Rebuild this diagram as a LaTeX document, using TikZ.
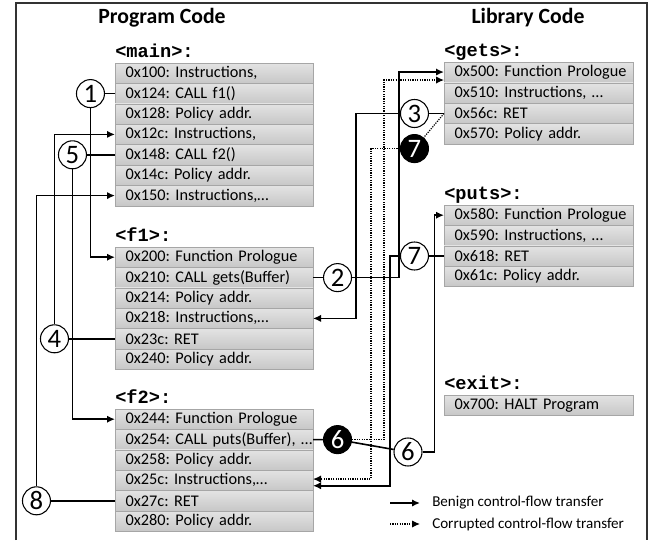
\documentclass[tikz,border=0pt]{standalone}
\usepackage{fontspec}
\setmainfont{Carlito}
\newfontfamily\codefont{Liberation Mono}
\frenchspacing
\hyphenpenalty=10000
\usetikzlibrary{positioning,arrows.meta}
\tikzstyle{row}=[rectangle, draw=gray!70, top color=gray!22, bottom color=gray!44, minimum height=15.3pt,
inner xsep=0pt, inner ysep=0pt, outer sep=0pt, text width=148.5pt, align=left,
execute at begin node={\hspace*{8pt}}, font=\fontsize{12.2}{14}\selectfont]
\tikzstyle{lrow}=[row, text width=141.75pt]
\tikzstyle{fname}=[inner sep=0pt, text depth=0pt, font=\codefont\bfseries\fontsize{14}{16}\selectfont]
\tikzstyle{title}=[font=\bfseries\fontsize{16.3}{18}\selectfont]
\tikzstyle{num}=[circle, draw, line width=0.8pt, minimum size=21pt, inner sep=0pt, fill=white, font=\fontsize{20}{20}\selectfont]
\tikzstyle{bnum}=[num, fill=black, text=white]
\tikzstyle{line}=[-, line width=1.2pt]
\tikzstyle{arr}=[line, -{Latex[length=6pt,width=5.5pt]}]
\tikzstyle{dline}=[-, line width=0.9pt, dash pattern=on 0.9pt off 0.9pt]
\tikzstyle{darr}=[dline, -{Latex[length=6pt,width=5.5pt]}]
\tikzstyle{legend}=[inner sep=0pt, font=\fontsize{11.3}{13}\selectfont]
\begin{document}
\begin{tikzpicture}[x=0.75pt, y=-0.75pt, node distance=0pt]
\useasboundingbox (0,0) rectangle (650,540);
\draw[line width=1pt, draw=black!80] (16,540) -- (16,3) -- (647,3) -- (647,540);

    \node (prog) [title] at (162,18) {Program Code};
    \node (lib) [title] at (528,18) {Library Code};

%program side
    \node (main1) [row, anchor=north west] at (115,63) {0x100: Instructions,};
    \node (main2) [row, below=of main1] {0x124: CALL f1()};
    \node (main3) [row, below=of main2] {0x128: Policy addr.};
    \node (main4) [row, below=of main3] {0x12c: Instructions,};
    \node (main5) [row, below=of main4] {0x148: CALL f2()};
    \node (main6) [row, below=of main5] {0x14c: Policy addr.};
    \node (main7) [row, below=of main6] {0x150: Instructions,…};
    \node (mainl) [fname, above right=4pt and 0pt of main1.north west] {<main>:};

    \node (fone1) [row, anchor=north west] at (115,247) {0x200: Function Prologue};
    \node (fone2) [row, below=of fone1] {0x210: CALL gets(Buffer)};
    \node (fone3) [row, below=of fone2] {0x214: Policy addr.};
    \node (fone4) [row, below=of fone3] {0x218: Instructions,…};
    \node (fone5) [row, below=of fone4] {0x23c: RET};
    \node (fone6) [row, below=of fone5] {0x240: Policy addr.};
    \node (fonel) [fname, above right=4pt and 0pt of fone1.north west] {<f1>:};

    \node (ftwo1) [row, anchor=north west] at (115,409) {0x244: Function Prologue};
    \node (ftwo2) [row, below=of ftwo1] {0x254: CALL puts(Buffer), …};
    \node (ftwo3) [row, below=of ftwo2] {0x258: Policy addr.};
    \node (ftwo4) [row, below=of ftwo3] {0x25c: Instructions,…};
    \node (ftwo5) [row, below=of ftwo4] {0x27c: RET};
    \node (ftwo6) [row, below=of ftwo5] {0x280: Policy addr.};
    \node (ftwol) [fname, above right=4pt and 0pt of ftwo1.north west] {<f2>:};

%library side
    \node (gets1) [lrow, anchor=north west] at (444,62.5) {0x500: Function Prologue};
    \node (gets2) [lrow, below=of gets1] {0x510: Instructions, …};
    \node (gets3) [lrow, below=of gets2] {0x56c: RET};
    \node (gets4) [lrow, below=of gets3] {0x570: Policy addr.};
    \node (getsl) [fname, above right=4pt and 0pt of gets1.north west] {<gets>:};

    \node (puts1) [lrow, anchor=north west] at (444,205) {0x580: Function Prologue};
    \node (puts2) [lrow, below=of puts1] {0x590: Instructions, …};
    \node (puts3) [lrow, below=of puts2] {0x618: RET};
    \node (puts4) [lrow, below=of puts3] {0x61c: Policy addr.};
    \node (putsl) [fname, above right=4pt and 0pt of puts1.north west] {<puts>:};

    \node (exit1) [lrow, anchor=north west] at (444,395) {0x700: HALT Program};
    \node (exitl) [fname, above right=4pt and 0pt of exit1.north west] {<exit>:};

%step numbers
    \node (c1) [num, left=7.5pt of main2] {1};
    \node (c5) [num, left=21pt of main5] {5};
    \node (c4) [num, left=34.5pt of fone5] {4};
    \node (c8) [num, left=48pt of ftwo5] {8};
    \node (c2) [num, right=7.5pt of fone2] {2};
    \node (c3) [num, left=11.25pt of gets3] {3};
    \node (c7b) [bnum, below=4.5pt of c3] {7};
    \node (c7) [num, left=11.25pt of puts3] {7};
    \node (c6b) [bnum, right=7.5pt of ftwo2] {6};
    \node (c6) [num] at (408,452) {6};

%benign transfers
   \draw[line] (main2.west) -- (c1);
   \draw[arr] (c1.south) |- (fone1.west);
   \draw[line] (main5.west) -- (c5);
   \draw[arr] (c5.south) |- (ftwo1.west);
   \draw[line] (fone5.west) -- (c4);
   \draw[arr] (c4.north) |- (main4.west);
   \draw[line] (ftwo5.west) -- (c8);
   \draw[arr] (c8.north) |- (main7.west);
   \draw[line] (fone2.east) -- (c2);
   \draw[arr] (c2.east) -- ++(35.25pt,0) |- ([yshift=0.5pt]gets1.west);
   \draw[line] (gets3.west) -- (c3);
   \draw[arr] (c3.west) -- ++(-33pt,0) |- (fone4.east);
   \draw[line] (puts3.west) -- (c7);
   \draw[arr] (c7.west) -- ++(-7.5pt,0) |- ([yshift=-4pt]ftwo4.east);
   \draw[line] (ftwo2.east) -- (c6b) -- (c6);
   \draw[arr] (c6.east) -- ++(9pt,0) |- (puts1.west);
%corrupted transfers
   \draw[darr] (c6b.east) -- ++(24pt,0) |- ([yshift=-5.5pt]gets1.west);
   \draw[dline] (gets3.west) -- (c7b);
   \draw[darr] (c7b.west) -- ++(-21.75pt,0) |- ([yshift=1pt]ftwo4.east);

%legend
    \node (leg1) [legend, anchor=west] at (432,503) {Benign control-flow transfer};
    \node (leg2) [legend, anchor=west] at (432,524) {Corrupted control-flow transfer};
    \coordinate (leg1s) at (390,503);
    \coordinate (leg2s) at (390,524);
   \draw[arr] (leg1s) -- ([xshift=-9pt]leg1.west);
   \draw[darr] (leg2s) -- ([xshift=-9pt]leg2.west);

\end{tikzpicture}
\end{document}
